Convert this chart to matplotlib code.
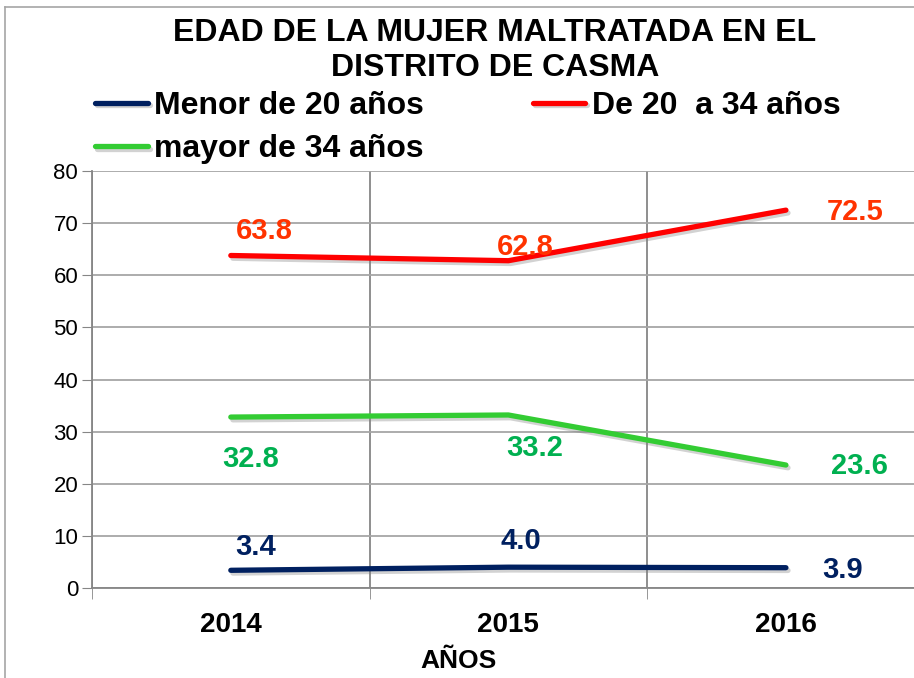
import numpy as np
import matplotlib.pyplot as plt
import matplotlib.patheffects as pe

plt.rcParams['font.family'] = ['Liberation Sans', 'DejaVu Sans']

years = ['2014', '2015', '2016']
menor_20 = [3.4, 4.0, 3.9]
de_20_34 = [63.8, 62.8, 72.5]
mayor_34 = [32.8, 33.2, 23.6]

series = [
    ('Menor de 20 años', menor_20, '#002060', '#002060'),
    ('De 20  a 34 años', de_20_34, '#FF0000', '#FF3300'),
    ('mayor de 34 años', mayor_34, '#33CC33', '#00B050'),
]
# label offsets in points (dx, dy), per series per point
offsets = [
    [(18, 17), (9, 19), (41, -1.5)],
    [(24, 17.5), (12, 10), (50, -1.5)],
    [(14, -30), (19, -24), (53, -1)],
]

fig = plt.figure(figsize=(9.14, 6.78), dpi=100)
ax = fig.add_axes([0.1007, 0.1327, 0.911, 0.615])
x = np.arange(len(years))

shadow = [pe.SimpleLineShadow(offset=(1.5, -2), shadow_color='gray', alpha=0.35), pe.Normal()]
lines = {}
for (name, vals, col, lcol), offs in zip(series, offsets):
    lines[name], = ax.plot(x, vals, color=col, lw=3.8, solid_capstyle='round', label=name,
                           path_effects=shadow)
    for xi, v, (dx, dy) in zip(x, vals, offs):
        ax.annotate(f'{v:.1f}', (xi, v), xytext=(dx, dy), textcoords='offset points',
                    ha='center', va='center', fontsize=21, fontweight='bold', color=lcol)

ax.set_xlim(-0.5, 2.5)
ax.set_ylim(0, 80)
ax.set_yticks(range(0, 81, 10))
ax.set_xticks(x)
ax.set_xticklabels(years, fontsize=20, fontweight='bold')
ax.set_xticks([-0.5, 0.5, 1.5], minor=True)
ax.tick_params(axis='x', which='major', length=0, pad=17)
ax.tick_params(axis='x', which='minor', length=8, color='#868686')
ax.tick_params(axis='y', length=7, color='#868686', labelsize=16, pad=3)
ax.grid(axis='y', color='#A6A6A6', lw=1.3)
ax.grid(axis='x', which='minor', color='#868686', lw=1.3)
ax.set_axisbelow(True)
for s in ['top', 'right']:
    ax.spines[s].set_visible(False)
for s in ['left', 'bottom']:
    ax.spines[s].set_color('#868686')
    ax.spines[s].set_linewidth(1.3)
ax.set_xlabel('AÑOS', fontsize=19, fontweight='bold')
ax.xaxis.set_label_coords(0.44, -0.147)

fig.text(0.5416, 0.926, 'EDAD DE LA MUJER MALTRATADA EN EL\nDISTRITO DE CASMA',
         ha='center', va='center', fontsize=23, fontweight='bold', linespacing=1.22)

order = ['Menor de 20 años', 'mayor de 34 años', 'De 20  a 34 años']
leg = fig.legend([lines[n] for n in order], order, loc='upper left',
                 bbox_to_anchor=(0.104, 0.866), ncol=2, frameon=False,
                 prop={'size': 23, 'weight': 'bold'}, handlelength=1.65, handletextpad=0.2,
                 columnspacing=3.4, labelspacing=0.41, borderaxespad=0, borderpad=0)

# chart area border
fig.add_artist(plt.Line2D([0.006, 0.006], [0, 0.99], color='#A6A6A6', lw=1.2))
fig.add_artist(plt.Line2D([0.006, 1.0], [0.99, 0.99], color='#A6A6A6', lw=1.2))

fig.savefig('out.png', dpi=100)
